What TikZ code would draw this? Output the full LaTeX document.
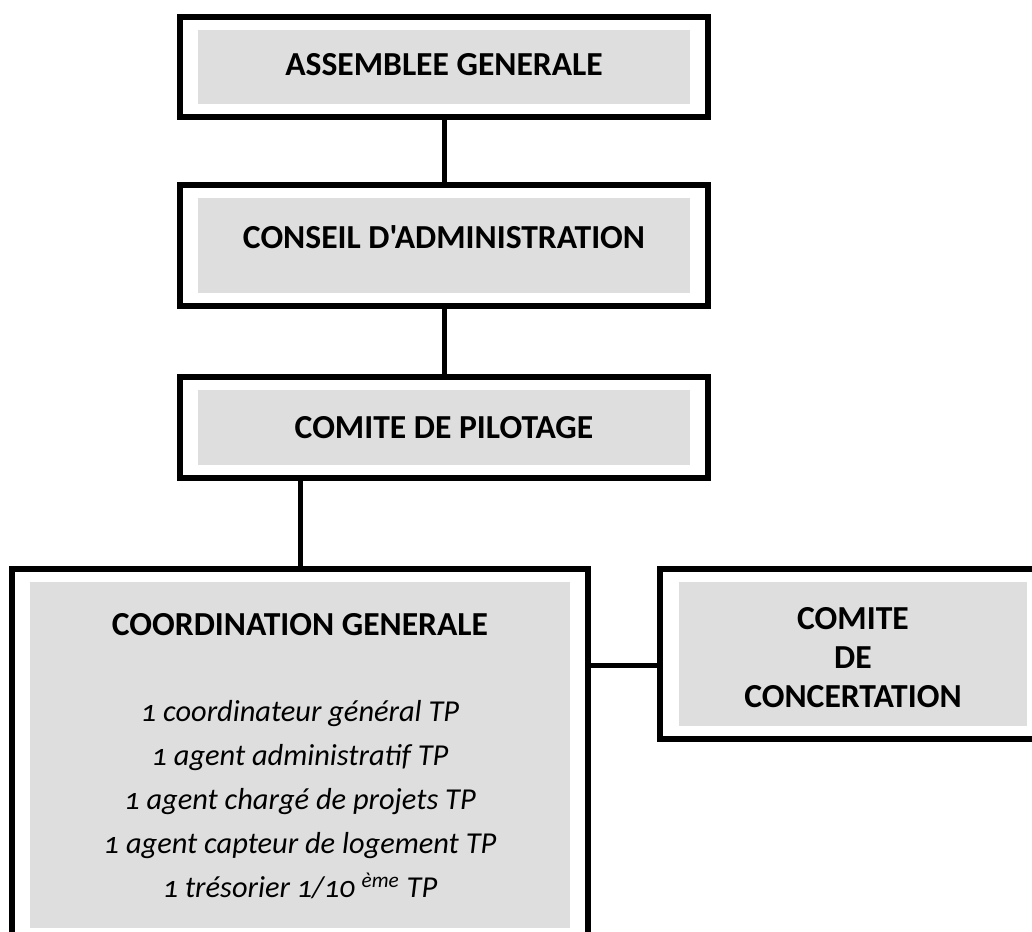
\documentclass[tikz,border=0pt]{standalone}
\usepackage{fontspec}
\setmainfont{Carlito}[Numbers=OldStyle, Ligatures=TeXOff]
\usetikzlibrary{fit}
\definecolor{boxgray}{RGB}{222,222,222}

\begin{document}
\begin{tikzpicture}[x=0.5pt, y=-0.5pt,
  panel/.style={fill=boxgray, draw=none, inner sep=0pt},
  frame/.style={draw, line width=3pt, inner xsep=9pt, inner ysep=6.25pt},
  title/.style={font=\fontsize{16.8}{19.5}\selectfont\bfseries, align=center, inner sep=0pt},
  staff/.style={font=\fontsize{15.2}{22}\selectfont\itshape, align=center, inner sep=0pt},
  link/.style={line width=2.5pt}]
  \clip (0,0) rectangle (1032,931);

  % Assemblee generale
  \node[panel, minimum width=246pt, minimum height=37pt] (agP) at (444,67) {};
  \node[title] (ag) at (444,65) {ASSEMBLEE GENERALE};
  \node[frame, fit=(agP)] (agF) {};

  % Conseil d'administration
  \node[panel, minimum width=246pt, minimum height=47.5pt] (caP) at (444,245.5) {};
  \node[title] (ca) at (444,237) {CONSEIL D'ADMINISTRATION};
  \node[frame, fit=(caP)] (caF) {};

  % Comite de pilotage
  \node[panel, minimum width=246pt, minimum height=37.5pt] (cpP) at (444,427.5) {};
  \node[title] (cp) at (444,428) {COMITE DE PILOTAGE};
  \node[frame, fit=(cpP)] (cpF) {};

  % Coordination generale (runs off the bottom edge)
  \node[panel, minimum width=270pt, minimum height=173pt] (coP) at (300,754.5) {};
  \node[title] (co) at (300,625) {COORDINATION GENERALE};
  \node[staff] (coStaff) at (300,800) {1 coordinateur général TP\\
    1 agent administratif TP\\
    1 agent chargé de projets TP\\
    1 agent capteur de logement TP\\
    1 trésorier 1/10 \textsuperscript{ème} TP};
  \node[frame, fit=(coP)] (coF) {};

  % Comite de concertation (runs off the right edge)
  \node[panel, minimum width=174pt, minimum height=72pt] (cmP) at (853,654) {};
  \node[title] (cm) at (853,658) {COMITE\\ DE\\ CONCERTATION};
  \node[frame, fit=(cmP), inner xsep=9.5pt] (cmF) {};

  % Liaisons
  \draw[link] (agF.south) -- (caF.north);
  \draw[link] (caF.south) -- (cpF.north);
  \draw[link] (coF.north) -- (coF.north |- cpF.south);
  \coordinate (cmLink) at ([yshift=-5.5pt]cmF.west);
  \draw[link] (cmLink) -- (cmLink -| coF.east);
\end{tikzpicture}
\end{document}
